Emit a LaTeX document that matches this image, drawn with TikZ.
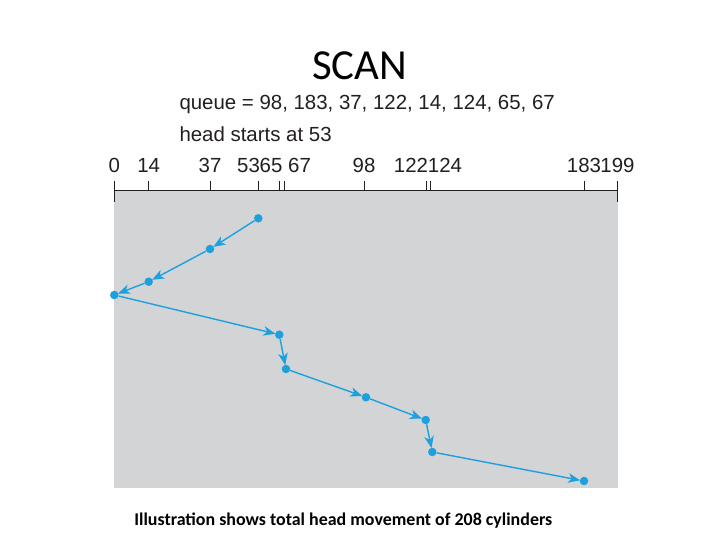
\documentclass[tikz,border=0pt]{standalone}
\usepackage{fontspec}
\setmainfont{Liberation Sans}
\newfontfamily\slidefont{Carlito}
\usetikzlibrary{arrows.meta}
\definecolor{scanBlue}{RGB}{28,160,222}
\definecolor{scanGray}{RGB}{211,212,214}
\definecolor{scanInk}{RGB}{35,31,32}

\begin{document}
\begin{tikzpicture}[x=1bp,y=-1bp,
      dot/.style={circle,fill=scanBlue,inner sep=0pt,minimum size=8.5bp},
      seek/.style={-{Stealth[length=12bp,width=9.5bp,inset=3.5bp]},line width=1.4bp,draw=scanBlue,shorten >=-0.5bp},
      axis/.style={draw=scanInk,line width=0.9bp},
      txt/.style={inner sep=0pt,text=scanInk,font=\fontsize{20.5}{24}\selectfont}
    ]
    \useasboundingbox (0,0) rectangle (720,540);
    \fill[white] (0,0) rectangle (720,540);
    % title and request queue
    \node[inner sep=0pt,anchor=base,font=\slidefont\fontsize{43}{50}\selectfont] (title) at (359.7,79.3) {SCAN};
    \node[txt,anchor=base west] (queue) at (179.3,109.7) {queue = 98, 183, 37, 122, 14, 124, 65, 67};
    \node[txt,anchor=base west] (start) at (179.3,141.3) {head starts at 53};
    % cylinder axis
    \fill[scanGray] (114.3,191) rectangle (618.2,488);
    \draw[axis] (114.3,190.7) -- (617.7,190.7);
    \foreach \v/\x/\lx in {0/114.3/114.3,14/148.7/148.7,37/210/210,53/258/248.5,65/279.3/271,67/284.3/299.5,
                           98/364.3/364,122/426.7/411,124/430.7/445,183/584.3/584,199/617.7/617.5}{
      \draw[axis] (\x,190.7) -- (\x,181);
      \node[txt,anchor=base] (l\v) at (\lx,172.7) {\v};
    }
    \draw[axis] (114.3,181) -- (114.3,202.5);
    \draw[axis] (617.7,181) -- (617.7,202);
    % head positions
    \node[dot] (d53)  at (258.3,218.3) {};
    \node[dot] (d37)  at (210,249)     {};
    \node[dot] (d14)  at (148.7,281.7) {};
    \node[dot] (d0)   at (114.3,295)   {};
    \node[dot] (d65)  at (279.3,334.7) {};
    \node[dot] (d67)  at (286,369)     {};
    \node[dot] (d98)  at (366,397.3)   {};
    \node[dot] (d122) at (425.7,420)   {};
    \node[dot] (d124) at (432.3,452)   {};
    \node[dot] (d183) at (584,481)     {};
    \draw[seek] (d53) -- (d37);
    \draw[seek] (d37) -- (d14);
    \draw[seek] (d14) -- (d0);
    \draw[seek] (d0) -- (d65);
    \draw[seek] (d65) -- (d67);
    \draw[seek] (d67) -- (d98);
    \draw[seek] (d98) -- (d122);
    \draw[seek] (d122) -- (d124);
    \draw[seek] (d124) -- (d183);
    \node[inner sep=0pt,anchor=base,font=\slidefont\bfseries\fontsize{18}{22}\selectfont] (note) at (343.3,525.5)
      {Illustration shows total head movement of 208 cylinders};
  \end{tikzpicture}
\end{document}
